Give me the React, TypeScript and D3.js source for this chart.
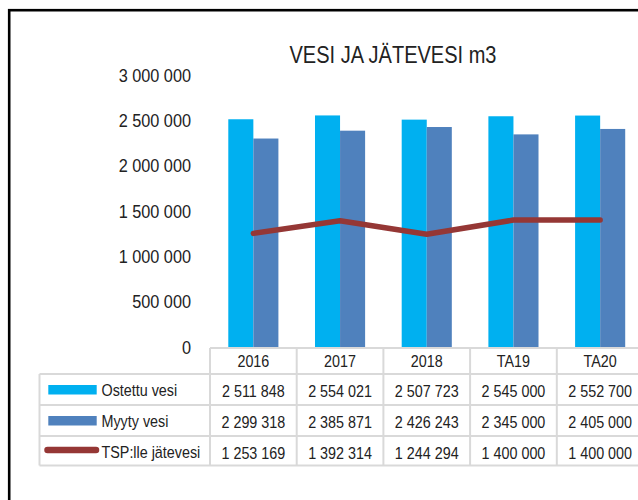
import React from "react";
import * as d3 from "d3";

const categories = ["2016", "2017", "2018", "TA19", "TA20"];
const ostettu = [2511848, 2554021, 2507723, 2545000, 2552700];
const myyty = [2299318, 2385871, 2426243, 2345000, 2405000];
const jatevesi = [1253169, 1392314, 1244294, 1400000, 1400000];
const yTicks = [0, 500000, 1000000, 1500000, 2000000, 2500000, 3000000];

const seriesNames = ["Ostettu vesi", "Myyty vesi", "TSP:lle jätevesi"];
const colors = ["#00B0F0", "#4F81BD", "#953735"];

const FONT = "'Liberation Sans', Arial, sans-serif";
const GRID = "#D9D9D9";

const fi = d3.formatLocale({ decimal: ",", thousands: " ", grouping: [3], currency: ["", ""] });
const fmt = fi.format(",d");

// no narrow font installed, so squeeze the regular one horizontally
const Txt = ({ x, y, sx = 0.88, size = 16.3, anchor = "start", children }: any) => (
  <text
    transform={`translate(${x},${y}) scale(${sx},1)`}
    textAnchor={anchor}
    fontFamily={FONT}
    fontSize={size}
    fill="#222"
  >
    {children}
  </text>
);

export default function App() {
  const width = 638;
  const height = 500;
  const colW = 86.7;
  const plotLeft = 210;
  const zeroY = 347;

  const x = d3
    .scaleBand()
    .domain(categories)
    .range([plotLeft, plotLeft + colW * categories.length])
    .padding(0);

  const xs = d3
    .scaleBand()
    .domain(["ostettu", "myyty"])
    .range([0, x.bandwidth()])
    .paddingInner(0)
    .paddingOuter(0.73);

  const y = d3.scaleLinear().domain([0, 3000000]).range([zeroY, 75]);

  const line = d3
    .line<number>()
    .x((_, i) => x(categories[i])! + x.bandwidth() / 2)
    .y((d) => y(d));

  // table geometry
  const tableLeft = 39.5;
  const tableRight = plotLeft + colW * categories.length;
  const headTop = 348;
  const rowTops = [374, 405, 436];
  const tableBottom = rowTops[2] + 29.5;
  const rows = [ostettu, myyty, jatevesi];

  return (
    <div style={{ position: "absolute", left: 0, top: 0 }}>
      <svg width={width} height={height} style={{ display: "block", background: "#fff" }}>
        <rect x={0} y={0} width={width} height={height} fill="#fff" />
        <rect x={9.2} y={10.2} width={720} height={600} fill="none" stroke="#000" strokeWidth={2.6} />

        <Txt x={393} y={62.5} sx={0.835} size={24} anchor="middle">
          VESI JA JÄTEVESI m3
        </Txt>

        {/* y axis labels */}
        {yTicks.map((t) => (
          <Txt key={t} x={191} y={y(t) + 6.5} sx={0.88} size={18.5} anchor="end">
            {fmt(t)}
          </Txt>
        ))}

        {/* bars */}
        {categories.map((c, i) => (
          <g key={c} transform={`translate(${x(c)},0)`}>
            <rect
              x={xs("ostettu")}
              y={y(ostettu[i])}
              width={xs.bandwidth()}
              height={zeroY - y(ostettu[i])}
              fill={colors[0]}
            />
            <rect
              x={xs("myyty")}
              y={y(myyty[i])}
              width={xs.bandwidth()}
              height={zeroY - y(myyty[i])}
              fill={colors[1]}
            />
          </g>
        ))}

        <path
          d={line(jatevesi) || ""}
          fill="none"
          stroke={colors[2]}
          strokeWidth={5.5}
          strokeLinejoin="round"
          strokeLinecap="round"
        />

        {/* data table */}
        <g stroke={GRID} strokeWidth={2} fill="none">
          <line x1={plotLeft} x2={tableRight} y1={headTop} y2={headTop} />
          {rowTops.map((r) => (
            <line key={r} x1={tableLeft} x2={tableRight} y1={r} y2={r} />
          ))}
          <line x1={tableLeft} x2={tableRight} y1={tableBottom} y2={tableBottom} />
          <line x1={tableLeft} x2={tableLeft} y1={rowTops[0]} y2={tableBottom} />
          {categories.map((c) => (
            <line key={c} x1={x(c)} x2={x(c)} y1={headTop} y2={tableBottom} />
          ))}
          <line x1={tableRight} x2={tableRight} y1={headTop} y2={tableBottom} />
        </g>

        {categories.map((c) => (
          <Txt key={c} x={x(c)! + x.bandwidth() / 2} y={366.5} anchor="middle">
            {c}
          </Txt>
        ))}

        {rows.map((vals, ri) => (
          <g key={ri}>
            {ri < 2 ? (
              <rect x={48.3} y={rowTops[ri] + 11} width={48.4} height={9.5} fill={colors[ri]} />
            ) : (
              <line
                x1={47.5}
                x2={96}
                y1={rowTops[ri] + 14}
                y2={rowTops[ri] + 14}
                stroke={colors[2]}
                strokeWidth={6.5}
                strokeLinecap="round"
              />
            )}
            <Txt x={101.5} y={rowTops[ri] + 22}>
              {seriesNames[ri]}
            </Txt>
            {vals.map((v, ci) => (
              <Txt key={ci} x={x(categories[ci])! + x.bandwidth() / 2} y={rowTops[ri] + 22.5} anchor="middle">
                {fmt(v)}
              </Txt>
            ))}
          </g>
        ))}
      </svg>
    </div>
  );
}
